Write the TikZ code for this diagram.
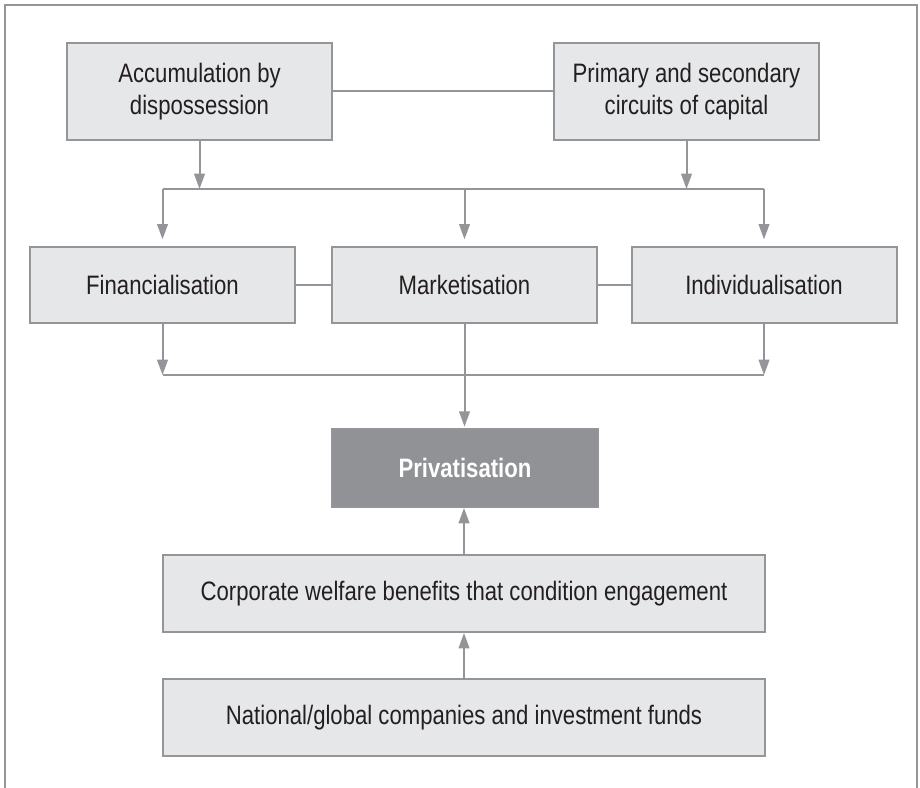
\documentclass[tikz,border=0pt]{standalone}
\usepackage{fontspec}
\setmainfont[FakeStretch=0.83]{Liberation Sans}
\definecolor{linegray}{RGB}{147,149,152}
\definecolor{boxgray}{RGB}{230,231,232}
\definecolor{darkbox}{RGB}{145,146,149}
\definecolor{inktext}{RGB}{35,31,32}
\usetikzlibrary{arrows.meta,positioning}
\tikzset{
  box/.style={draw=linegray,fill=boxgray,line width=1.5pt,text=inktext,align=center,
    minimum width=198.75pt,font=\fontsize{20}{24}\selectfont},
  wide/.style={box,minimum width=451.5pt,minimum height=57.75pt},
  conn/.style={draw=linegray,line width=1.5pt},
  arr/.style={conn,-{Triangle[length=11.5pt,width=8pt]}}
}
\begin{document}
\begin{tikzpicture}[x=0.75pt,y=-0.75pt]
  \useasboundingbox (0,0) rectangle (920,788);
  \draw[conn] (5,788) -- (5,5) -- (917,5) -- (917,788);
  \node[box,minimum height=72.75pt] (accum) at (199.5,91.5) {Accumulation by\\dispossession};
  \node[box,minimum height=72.75pt] (circuits) at (686.5,91.5) {Primary and secondary\\circuits of capital};
  \node[box,minimum height=57pt] (fin) at (162.5,285) {Financialisation};
  \node[box,minimum height=57pt] (mkt) at (464.5,285) {Marketisation};
  \node[box,minimum height=57pt] (ind) at (764,285) {Individualisation};
  \node[box,fill=darkbox,minimum width=199.5pt,minimum height=58.5pt,text=white,
    font=\fontsize{20}{24}\selectfont\bfseries] (priv) at (465,468) {Privatisation};
  \node[wide] (corp) at (464,593.5) {Corporate welfare benefits that condition engagement};
  \node[wide] (natl) at (464,717.5) {National/global companies and investment funds};
  \coordinate (topbar) at (0,189);
  \coordinate (lowbar) at (0,375);
  \draw[conn] (accum) -- (circuits);
  \draw[conn] (fin) -- (mkt);
  \draw[conn] (mkt) -- (ind);
  \draw[arr] (accum.south) -- (accum.south |- topbar);
  \draw[arr] (circuits.south) -- (circuits.south |- topbar);
  \draw[conn] (fin.north |- topbar) -- (ind.north |- topbar);
  \foreach \n in {fin,mkt,ind}
    \draw[arr,shorten >=5pt] (\n.north |- topbar) -- (\n.north);
  \draw[arr] (fin.south) -- (fin.south |- lowbar);
  \draw[arr] (ind.south) -- (ind.south |- lowbar);
  \draw[conn] (fin.south |- lowbar) -- (ind.south |- lowbar);
  \draw[arr,shorten >=1pt] (mkt.south) -- (mkt.south |- priv.north);
  \draw[arr] (corp.north) -- (corp.north |- priv.south);
  \draw[arr] (natl.north) -- (corp.south);
\end{tikzpicture}
\end{document}
